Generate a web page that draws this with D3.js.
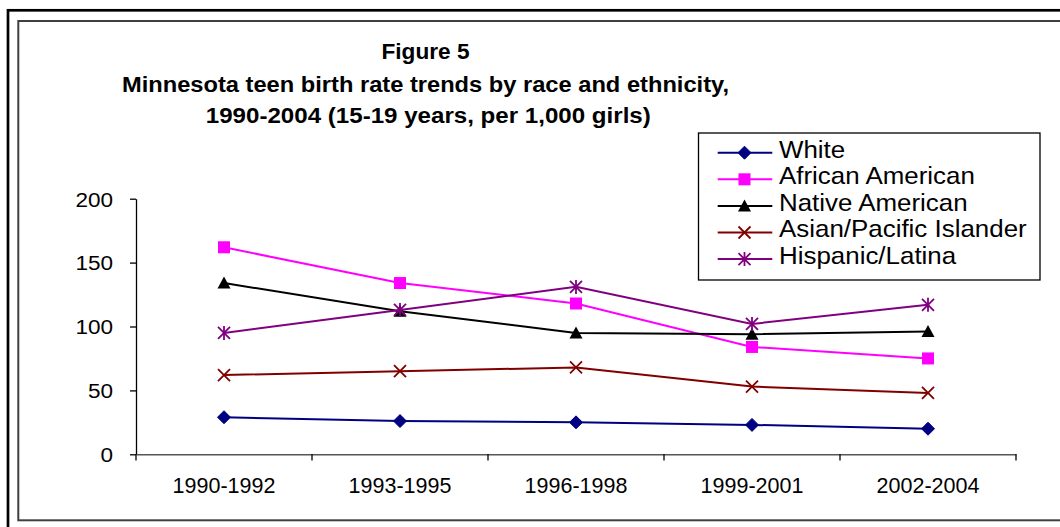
<!DOCTYPE html>
<html>
<head>
<meta charset="utf-8">
<script src="https://cdn.jsdelivr.net/npm/d3@7"></script>
<style>
  html, body { margin: 0; padding: 0; background: #fff; }
  svg { display: block; }
  text { font-family: "Liberation Sans", Arial, Helvetica, sans-serif; fill: #000; }
</style>
</head>
<body>
<svg id="chart" width="1060" height="527"></svg>
<script>
const categories = ["1990-1992", "1993-1995", "1996-1998", "1999-2001", "2002-2004"];
const seriesNames = ["White", "African American", "Native American", "Asian/Pacific Islander", "Hispanic/Latina"];
const white = [29, 26, 25, 23, 20];
const africanAmerican = [162, 134, 118, 84, 75];
const nativeAmerican = [134, 112, 95, 94, 96];
const asianPacific = [62, 65, 68, 53, 48];
const hispanicLatina = [95, 113, 131, 102, 117];
const yTicks = [0, 50, 100, 150, 200];
const titleLines = ["Figure 5", "Minnesota teen birth rate trends by race and ethnicity,", "1990-2004 (15-19 years, per 1,000 girls)"];

const seriesValues = [white, africanAmerican, nativeAmerican, asianPacific, hispanicLatina];
const colors = ["#000080", "#FF00FF", "#000000", "#800000", "#800080"];
const markers = ["diamond", "square", "triangle", "x", "star"];

const svg = d3.select("#chart");
svg.append("rect").attr("width", 1060).attr("height", 527).attr("fill", "#fff");

// borders
svg.append("rect").attr("x", 8).attr("y", 10.3).attr("width", 1100).attr("height", 540)
  .attr("fill", "none").attr("stroke", "#000").attr("stroke-width", 2.7);
svg.append("rect").attr("x", 18.3).attr("y", 21).attr("width", 1100).attr("height", 499.3)
  .attr("fill", "none").attr("stroke", "#404040").attr("stroke-width", 2);

// title
const titleX = [425.5, 425.5, 428.3];
const titleY = [58.5, 91.5, 122.5];
const titleW = [88, 607, 445];
titleLines.forEach((t, i) => {
  svg.append("text").attr("x", titleX[i]).attr("y", titleY[i])
    .attr("text-anchor", "middle").attr("font-weight", "bold").attr("font-size", 21.5)
    .attr("textLength", titleW[i]).attr("lengthAdjust", "spacingAndGlyphs")
    .text(t);
});

const x = d3.scaleBand().domain(categories).range([136, 1016]).padding(0);
const y = d3.scaleLinear().domain([0, 200]).range([454.3, 198.7]);
const cx = c => x(c) + x.bandwidth() / 2;

// y axis
const yAxis = svg.append("g").attr("transform", "translate(136,0)")
  .call(d3.axisLeft(y).tickValues(yTicks).tickSize(6).tickSizeOuter(0));
yAxis.select(".domain").attr("stroke", "#000").attr("stroke-width", 1.3);
yAxis.selectAll(".tick line").attr("stroke", "#000").attr("stroke-width", 1.3);
yAxis.selectAll(".tick text")
  .attr("x", 0).attr("dy", "0.36em")
  .attr("transform", "translate(-23,0) scale(1.1,1)")
  .attr("font-size", 20.5).attr("font-family", "Liberation Sans, Arial, sans-serif")
  .attr("fill", "#000").attr("text-anchor", "end");

// x axis
const xAxis = svg.append("g").attr("transform", "translate(0,454.3)")
  .call(d3.axisBottom(x).tickSize(0).tickSizeOuter(0));
xAxis.select(".domain").attr("stroke", "#555").attr("stroke-width", 1.5);
xAxis.selectAll(".tick text")
  .attr("y", 0).attr("dy", 0)
  .attr("transform", "translate(0,38.5)")
  .attr("font-size", 21.5).attr("font-family", "Liberation Sans, Arial, sans-serif")
  .attr("fill", "#000");
// category boundary tick marks
const boundaries = categories.map(c => x(c)).concat([x(categories[categories.length - 1]) + x.bandwidth()]);
svg.append("g").selectAll("line").data(boundaries).join("line")
  .attr("x1", d => d).attr("x2", d => d)
  .attr("y1", 454.3).attr("y2", 460.5)
  .attr("stroke", "#000").attr("stroke-width", 1.3);

// marker drawing
function drawMarker(g, type, color, px, py) {
  if (type === "diamond") {
    g.append("path").attr("d", `M${px},${py - 6.5}L${px + 6.5},${py}L${px},${py + 6.5}L${px - 6.5},${py}Z`)
      .attr("fill", color).attr("stroke", color).attr("stroke-width", 1);
  } else if (type === "square") {
    g.append("rect").attr("x", px - 6).attr("y", py - 6).attr("width", 12).attr("height", 12)
      .attr("fill", color);
  } else if (type === "triangle") {
    g.append("path").attr("d", `M${px},${py - 6.5}L${px + 6.5},${py + 5.5}L${px - 6.5},${py + 5.5}Z`)
      .attr("fill", color);
  } else if (type === "x") {
    g.append("path").attr("d", `M${px - 6},${py - 6}L${px + 6},${py + 6}M${px - 6},${py + 6}L${px + 6},${py - 6}`)
      .attr("stroke", color).attr("stroke-width", 1.8).attr("fill", "none");
  } else if (type === "star") {
    g.append("path").attr("d", `M${px - 6},${py - 6}L${px + 6},${py + 6}M${px - 6},${py + 6}L${px + 6},${py - 6}M${px},${py - 7}L${px},${py + 7}`)
      .attr("stroke", color).attr("stroke-width", 1.8).attr("fill", "none");
  }
}

// series
const line = d3.line().x((d, i) => cx(categories[i])).y(d => y(d));
seriesValues.forEach((vals, s) => {
  const g = svg.append("g");
  g.append("path").datum(vals).attr("d", line)
    .attr("fill", "none").attr("stroke", colors[s]).attr("stroke-width", 2);
  vals.forEach((v, i) => drawMarker(g, markers[s], colors[s], cx(categories[i]), y(v)));
});

// legend
svg.append("rect").attr("x", 698.5).attr("y", 133).attr("width", 341.5).attr("height", 147)
  .attr("fill", "#fff").attr("stroke", "#000").attr("stroke-width", 1.3);
const legendRowY = [152.7, 179.3, 205.9, 232.5, 259.1];
seriesNames.forEach((name, s) => {
  const g = svg.append("g");
  const ly = legendRowY[s];
  g.append("line").attr("x1", 717.7).attr("x2", 772.3).attr("y1", ly).attr("y2", ly)
    .attr("stroke", colors[s]).attr("stroke-width", 2);
  drawMarker(g, markers[s], colors[s], 744.5, ly);
  g.append("text").attr("transform", `translate(779,${ly + 4.8}) scale(1.08,1)`)
    .attr("font-size", 24).text(name);
});
</script>
</body>
</html>
